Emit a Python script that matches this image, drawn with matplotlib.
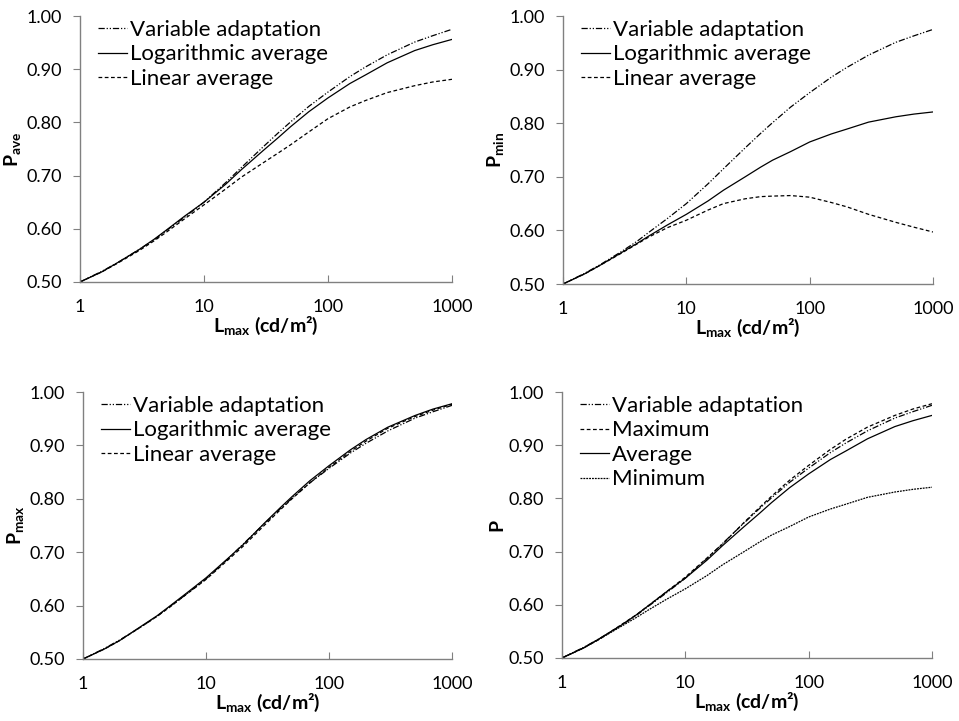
import matplotlib
matplotlib.use("Agg")
import matplotlib.pyplot as plt

plt.rcParams['font.family'] = ['Lato', 'DejaVu Sans']

L = [1, 1.5, 2, 3, 4, 5, 7, 10, 15, 20, 30, 40, 50, 70, 100, 150, 200, 300, 500, 700, 1000]

var_adapt = [0.500, 0.520, 0.536, 0.561, 0.580, 0.597, 0.622, 0.650, 0.687, 0.715, 0.754,
             0.781, 0.801, 0.830, 0.857, 0.886, 0.904, 0.927, 0.951, 0.963, 0.975]

pave_log = [0.500, 0.519, 0.536, 0.561, 0.581, 0.598, 0.624, 0.650, 0.684, 0.711, 0.747,
            0.772, 0.792, 0.820, 0.846, 0.873, 0.889, 0.912, 0.935, 0.946, 0.956]
pave_lin = [0.500, 0.519, 0.535, 0.559, 0.578, 0.594, 0.619, 0.645, 0.675, 0.697, 0.724,
            0.743, 0.758, 0.782, 0.807, 0.829, 0.841, 0.856, 0.869, 0.876, 0.881]

pmin_log = [0.500, 0.519, 0.535, 0.559, 0.576, 0.590, 0.610, 0.630, 0.655, 0.675, 0.700,
            0.718, 0.731, 0.747, 0.765, 0.780, 0.789, 0.802, 0.812, 0.817, 0.821]
pmin_lin = [0.500, 0.519, 0.535, 0.558, 0.575, 0.588, 0.605, 0.619, 0.638, 0.650, 0.659,
            0.663, 0.664, 0.665, 0.662, 0.652, 0.644, 0.630, 0.615, 0.606, 0.597]

pmax_log = [0.500, 0.519, 0.535, 0.562, 0.581, 0.598, 0.624, 0.652, 0.688, 0.714, 0.755,
            0.783, 0.804, 0.834, 0.862, 0.892, 0.911, 0.934, 0.956, 0.968, 0.978]
pmax_lin = [0.500, 0.519, 0.535, 0.561, 0.580, 0.596, 0.622, 0.649, 0.685, 0.711, 0.751,
            0.779, 0.800, 0.830, 0.859, 0.889, 0.908, 0.932, 0.954, 0.966, 0.977]

x_ticks = [1, 10, 100, 1000]
x_ticklabels = ['1', '10', '100', '1000']
y_ticks = [0.50, 0.60, 0.70, 0.80, 0.90, 1.00]
y_ticklabels = ['0.50', '0.60', '0.70', '0.80', '0.90', '1.00']

DASHDOTDOT = (0, (5, 1.5, 1, 1.5, 1, 1.5))
DASHED = (0, (3, 2))
DOTTED = (0, (1.5, 0.8))

fig = plt.figure(figsize=(9.59, 7.21), dpi=100)

rects = [
    [0.0834, 0.6089, 0.3879, 0.3689],
    [0.5871, 0.6061, 0.3858, 0.3717],
    [0.0866, 0.0860, 0.3847, 0.3703],
    [0.5860, 0.0874, 0.3858, 0.3689],
]

panels = [
    ('ave', [('Variable adaptation', var_adapt, DASHDOTDOT),
             ('Logarithmic average', pave_log, '-'),
             ('Linear average', pave_lin, DASHED)]),
    ('min', [('Variable adaptation', var_adapt, DASHDOTDOT),
             ('Logarithmic average', pmin_log, '-'),
             ('Linear average', pmin_lin, DASHED)]),
    ('max', [('Variable adaptation', var_adapt, DASHDOTDOT),
             ('Logarithmic average', pmax_log, '-'),
             ('Linear average', pmax_lin, DASHED)]),
    (None, [('Variable adaptation', var_adapt, DASHDOTDOT),
            ('Maximum', pmax_log, DASHED),
            ('Average', pave_log, '-'),
            ('Minimum', pmin_log, DOTTED)]),
]

for rect, (sub, series) in zip(rects, panels):
    ax = fig.add_axes(rect)
    handles = []
    for name, vals, ls in series:
        ln, = ax.plot(L, vals, color='black', linewidth=0.9, linestyle=ls, label=name)
        handles.append(ln)
    ax.set_xscale('log')
    ax.set_xlim(1, 1000)
    ax.set_ylim(0.5, 1.0)
    ax.set_xticks(x_ticks)
    ax.set_xticklabels(x_ticklabels)
    ax.minorticks_off()
    ax.set_yticks(y_ticks)
    ax.set_yticklabels(y_ticklabels)
    for s in ['top', 'right']:
        ax.spines[s].set_visible(False)
    for s in ['left', 'bottom']:
        ax.spines[s].set_color('#808080')
        ax.spines[s].set_linewidth(1.0)
    ax.tick_params(axis='x', direction='in', length=5, color='#808080', labelsize=13, pad=12)
    ax.tick_params(axis='y', direction='out', length=5, color='#808080', labelsize=13, pad=8)
    ax.set_xlabel(r'L$_{\mathregular{max}}$ (cd/m²)', fontsize=14,
                  fontweight='bold', labelpad=0)
    if sub:
        ylabel = r'P$_{\mathregular{%s}}$' % sub
    else:
        ylabel = 'P'
    ax.set_ylabel(ylabel, fontsize=14, fontweight='bold', labelpad=2)
    ax.legend(handles=handles, loc='upper left', frameon=False, fontsize=16,
              handlelength=1.3, handletextpad=0.15, labelspacing=0.2,
              borderpad=0.0, borderaxespad=0.0, bbox_to_anchor=(0.048, 0.985))

fig.savefig('out.png', dpi=100)
